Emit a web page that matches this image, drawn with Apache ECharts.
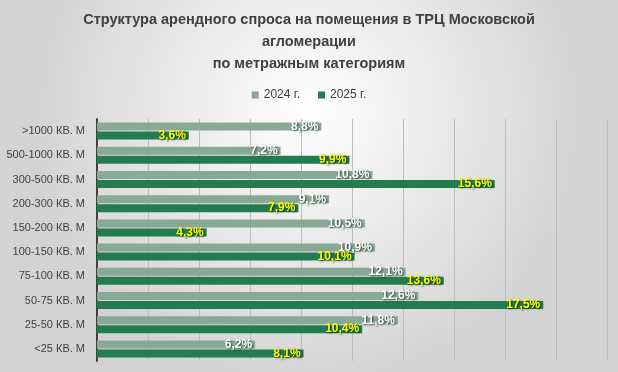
<!DOCTYPE html>
<html><head><meta charset="utf-8">
<script src="https://cdn.jsdelivr.net/npm/echarts@6/dist/echarts.min.js"></script>
<style>html,body{margin:0;padding:0;}#c{width:618px;height:372px;}</style>
</head><body><div id="c"></div>
<script>
const categories = ['>1000 КВ. М','500-1000 КВ. М','300-500 КВ. М','200-300 КВ. М','150-200 КВ. М','100-150 КВ. М','75-100 КВ. М','50-75 КВ. М','25-50 КВ. М','<25 КВ. М'];
const values2024 = [8.8, 7.2, 10.8, 9.1, 10.5, 10.9, 12.1, 12.6, 11.8, 6.2];
const values2025 = [3.6, 9.9, 15.6, 7.9, 4.3, 10.1, 13.6, 17.5, 10.4, 8.1];
const seriesNames = ['2024 г.', '2025 г.'];
const titleText = 'Структура арендного спроса на помещения в ТРЦ Московской\nагломерации\nпо метражным категориям';

const fmt = p => String(p.value).replace('.', ',') + '%';
const chart = echarts.init(document.getElementById('c'));
chart.setOption({
  backgroundColor: new echarts.graphic.RadialGradient(0.5, 0.3, 0.75, [
    {offset: 0, color: '#ffffff'}, {offset: 1, color: '#d3d3d3'}
  ]),
  animation: false,
  title: {
    text: titleText, left: 'center', top: 4,
    textStyle: {fontFamily: 'Liberation Sans', fontWeight: 'bold', fontSize: 14.5, color: '#404040', lineHeight: 22}
  },
  legend: {
    top: 84, left: 'center', itemWidth: 7, itemHeight: 7, itemGap: 18,
    icon: 'rect',
    textStyle: {fontFamily: 'Liberation Sans', fontSize: 12, color: '#404040'},
    data: seriesNames
  },
  grid: {left: 97, right: 11, top: 119, bottom: 11, containLabel: false},
  xAxis: {
    type: 'value', min: 0, max: 20, interval: 2,
    axisLabel: {show: false}, axisLine: {show: false}, axisTick: {show: false},
    splitLine: {lineStyle: {color: '#bdbdbd', width: 1}}
  },
  yAxis: {
    type: 'category', data: categories, inverse: true,
    axisLine: {lineStyle: {color: '#404040', width: 2}},
    axisTick: {show: false},
    axisLabel: {fontFamily: 'Liberation Sans', fontSize: 11, color: '#404040', margin: 12}
  },
  series: [
    {
      name: seriesNames[0], type: 'bar', data: values2024, barWidth: 8, barGap: '12%',
      itemStyle: {color: '#88a995'},
      label: {show: true, position: 'insideRight', distance: 3, formatter: fmt,
        fontFamily: 'Liberation Sans', fontSize: 12, fontWeight: 'bold', color: '#ffffff',
        textShadowColor: 'rgba(0,0,0,0.6)', textShadowBlur: 2, textShadowOffsetX: 1, textShadowOffsetY: 1}
    },
    {
      name: seriesNames[1], type: 'bar', data: values2025, barWidth: 8,
      itemStyle: {color: '#237b50'},
      label: {show: true, position: 'insideRight', distance: 3, formatter: fmt,
        fontFamily: 'Liberation Sans', fontSize: 12, fontWeight: 'bold', color: '#ffff00',
        textShadowColor: 'rgba(0,0,0,0.7)', textShadowBlur: 2, textShadowOffsetX: 1, textShadowOffsetY: 1}
    }
  ]
});
</script></body></html>
